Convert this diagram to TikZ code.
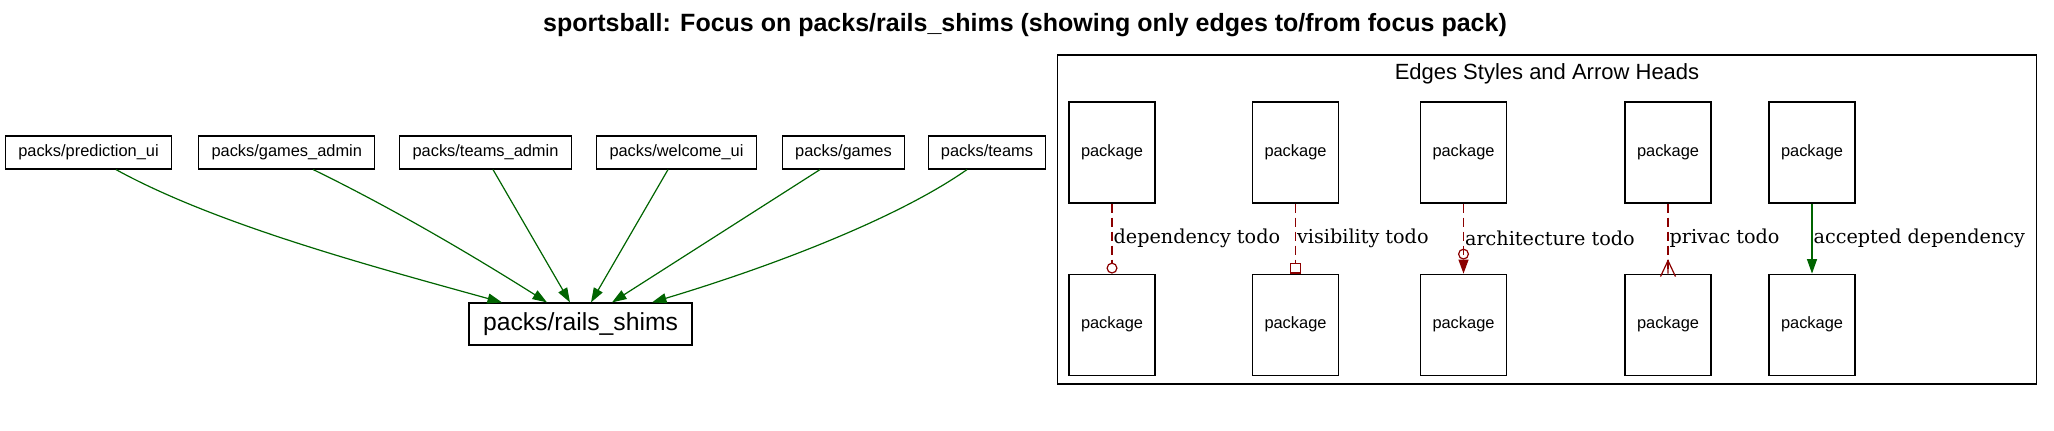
\documentclass[tikz,border=0pt]{standalone}
\usepackage{fontspec}
\setmainfont{Liberation Sans}
\newfontfamily\edgefont{DejaVu Serif}
\usetikzlibrary{positioning,arrows.meta,calc}
\definecolor{depgreen}{HTML}{006400}
\definecolor{todored}{HTML}{8B0000}

\tikzset{
  pack/.style={draw, line width=1.2pt, inner xsep=12.8pt, inner ysep=0pt,
    minimum height=33pt, font=\fontsize{16.4}{18}\selectfont},
  focus/.style={draw, line width=1.2pt, minimum width=223pt, minimum height=42pt,
    inner sep=0pt, font=\fontsize{24.7}{28}\selectfont},
  legendpack/.style={draw, line width=1.2pt, minimum width=86pt, minimum height=101pt,
    inner sep=0pt, font=\fontsize{16.4}{18}\selectfont},
  depedge/.style={depgreen, line width=1.2pt, -{Triangle[length=14.5pt,width=10pt]}},
  todoedge/.style={todored, line width=1.2pt, dash pattern=on 9pt off 5pt},
  edgelabel/.style={right, inner sep=1pt, text=black,
    font=\edgefont\fontsize{19.2}{22}\selectfont},
}

\begin{document}
\begin{tikzpicture}[x=1pt, y=-1pt]
  \useasboundingbox (0,0) rectangle (2054,431);
  \node[anchor=base, font=\bfseries\fontsize{25}{28}\selectfont] (title) at (1025,31)
    {sportsball: Focus on packs/rails\_shims (showing only edges to/from focus pack)};

  % packs that depend on the focus pack
  \node[pack] (prediction) at (88.5,152.5) {packs/prediction\_ui};
  \node[pack] (gamesadmin) at (286.75,152.5) {packs/games\_admin};
  \node[pack] (teamsadmin) at (485.5,152.5) {packs/teams\_admin};
  \node[pack] (welcome) at (676.5,152.5) {packs/welcome\_ui};
  \node[pack] (games) at (843.5,152.5) {packs/games};
  \node[pack] (teams) at (987,152.5) {packs/teams};
  \node[focus] (shims) at (580.5,324) {packs/rails\_shims};

  \draw[depedge] ([xshift=27.5pt]prediction.south) .. controls +(100,55) and +(-130,-36) .. ([xshift=-78.5pt]shims.north);
  \draw[depedge] ([xshift=26.5pt]gamesadmin.south) .. controls +(78,38) and +(-76,-48) .. ([xshift=-33.5pt]shims.north);
  \draw[depedge] ([xshift=7.5pt]teamsadmin.south) -- ([xshift=-10.5pt]shims.north);
  \draw[depedge] ([xshift=-8.5pt]welcome.south) -- ([xshift=10.5pt]shims.north);
  \draw[depedge] ([xshift=-23.5pt]games.south) -- ([xshift=31.5pt]shims.north);
  \draw[depedge] ([xshift=-20pt]teams.south) .. controls +(-70,49) and +(120,-36) .. ([xshift=71.5pt]shims.north);

  % legend
  \node[draw, line width=1.2pt, minimum width=979pt, minimum height=329pt, inner sep=0pt] (legend) at (1547,219.5) {};
  \node[anchor=base, font=\fontsize{22}{26}\selectfont] (legendtitle) at (1547,79) {Edges Styles and Arrow Heads};

  \node[legendpack] (deptop) at (1112,152.5) {package};
  \node[legendpack, below=70pt of deptop] (depbot) {package};
  \node[legendpack] (vistop) at (1295.5,152.5) {package};
  \node[legendpack, below=70pt of vistop] (visbot) {package};
  \node[legendpack] (archtop) at (1463.5,152.5) {package};
  \node[legendpack, below=70pt of archtop] (archbot) {package};
  \node[legendpack] (privtop) at (1668,152.5) {package};
  \node[legendpack, below=70pt of privtop] (privbot) {package};
  \node[legendpack] (acctop) at (1812,152.5) {package};
  \node[legendpack, below=70pt of acctop] (accbot) {package};

  \draw[todoedge, -{Circle[open,length=11pt,width=11pt]}] (deptop) -- (depbot)
    node[midway, edgelabel] {dependency todo};
  \draw[todoedge, -{Square[open,length=11pt,width=11pt]}] (vistop) -- (visbot)
    node[midway, edgelabel] {visibility todo};
  \draw[todoedge, -{Circle[open,length=11pt,width=11pt] Triangle[length=14pt,width=10pt]}] (archtop) -- (archbot)
    node[midway, edgelabel] {architecture todo};
  \draw[todoedge] (privtop) -- (privbot)
    node[midway, edgelabel] {privac todo};
  \draw[todored, line width=1.2pt] ($(privbot.north)+(-7.5,3)$) -- ($(privbot.north)+(0,-13)$) -- ($(privbot.north)+(7.5,3)$)
    ($(privbot.north)+(0,-13)$) -- (privbot.north);
  \draw[depedge] (acctop) -- (accbot)
    node[midway, edgelabel] {accepted dependency};
\end{tikzpicture}
\end{document}
